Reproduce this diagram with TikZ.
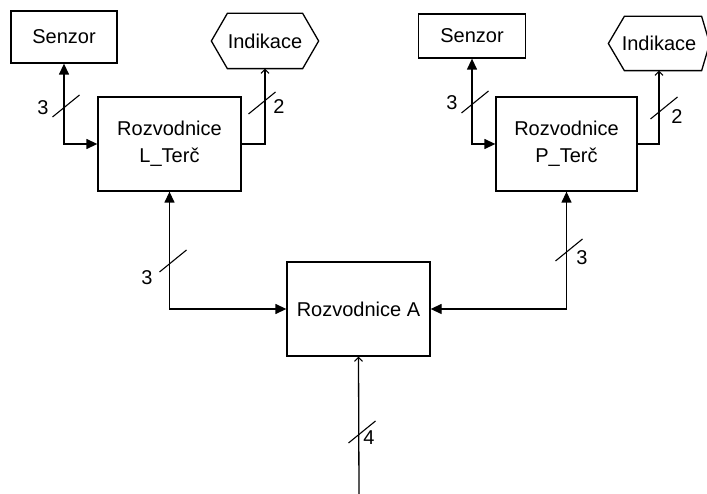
\documentclass[tikz,border=0pt]{standalone}
\usepackage{fontspec}
\setmainfont{Liberation Sans}
\usetikzlibrary{arrows.meta,calc}
\begin{document}
\begin{tikzpicture}[x=1pt,y=-1pt,
  line width=1.3pt,
  every node/.style={font=\fontsize{20}{27}\selectfont},
  blok/.style={draw, rectangle, inner sep=0pt, align=center},
  hexa/.style={rectangle, inner sep=0pt},
  tri/.tip={Triangle[length=11pt,width=10pt]},
  barb/.tip={Straight Barb[length=4pt,width=8pt,line width=1.1pt]},
  lbl/.style={inner sep=0pt},
  busline/.style={line width=1.1pt}
]
\useasboundingbox (0,0) rectangle (707,494);

% boxes
\node[blok, minimum width=106pt, minimum height=52pt] (SL) at (64,37) {Senzor};
\node[blok, minimum width=107pt, minimum height=44pt] (SR) at (472,36) {Senzor};
\node[blok, minimum width=143pt, minimum height=94pt] (LT) at (169.5,144) {Rozvodnice\\L\_Terč};
\node[blok, minimum width=141pt, minimum height=94pt] (PT) at (566.5,144) {Rozvodnice\\P\_Terč};
\node[blok, minimum width=143pt, minimum height=94pt] (RA) at (358.5,309) {Rozvodnice A};

% hexagons
\node[hexa, minimum width=106pt, minimum height=54pt] (IL) at (265,41) {Indikace};
\draw (IL.west) -- ($(IL.north west)+(16,0)$) -- ($(IL.north east)+(-16,0)$) -- (IL.east)
      -- ($(IL.south east)+(-16,0)$) -- ($(IL.south west)+(16,0)$) -- cycle;
\node[hexa, minimum width=100pt, minimum height=53pt] (IR) at (659,43.5) {Indikace};
\draw (IR.west) -- ($(IR.north west)+(16,0)$) -- ($(IR.north east)+(-8,0)$) -- (IR.east)
      -- ($(IR.south east)+(-8,0)$) -- ($(IR.south west)+(16,0)$) -- cycle;

% connectors
\draw[tri-tri] (SL.south) |- (LT.west);
\draw[-barb] (LT.east) -| (IL.south);
\draw[tri-tri] (SR.south) |- (PT.west);
\draw[-barb] (PT.east) -| (IR.south);
\draw[tri-tri] (LT.south) |- (RA.west);
\draw[tri-tri] (PT.south) |- (RA.east);
\coordinate (vstup) at (359,494);
\draw[-barb] (vstup) -- (RA.south);

% bus marks
\foreach \cx/\cy in {66/106, 262/103, 475/102, 664/108, 173/261, 569/250, 362/432}{
  \draw[busline] (\cx,\cy) ++(-13.5,11) -- ++(27,-22);
}
\node[lbl] (n1) at (43,108) {3};
\node[lbl] (n2) at (279,107) {2};
\node[lbl] (n3) at (452,103) {3};
\node[lbl] (n4) at (677,117) {2};
\node[lbl] (n5) at (147,278) {3};
\node[lbl] (n6) at (582,258) {3};
\node[lbl] (n7) at (369,438) {4};
\end{tikzpicture}
\end{document}
